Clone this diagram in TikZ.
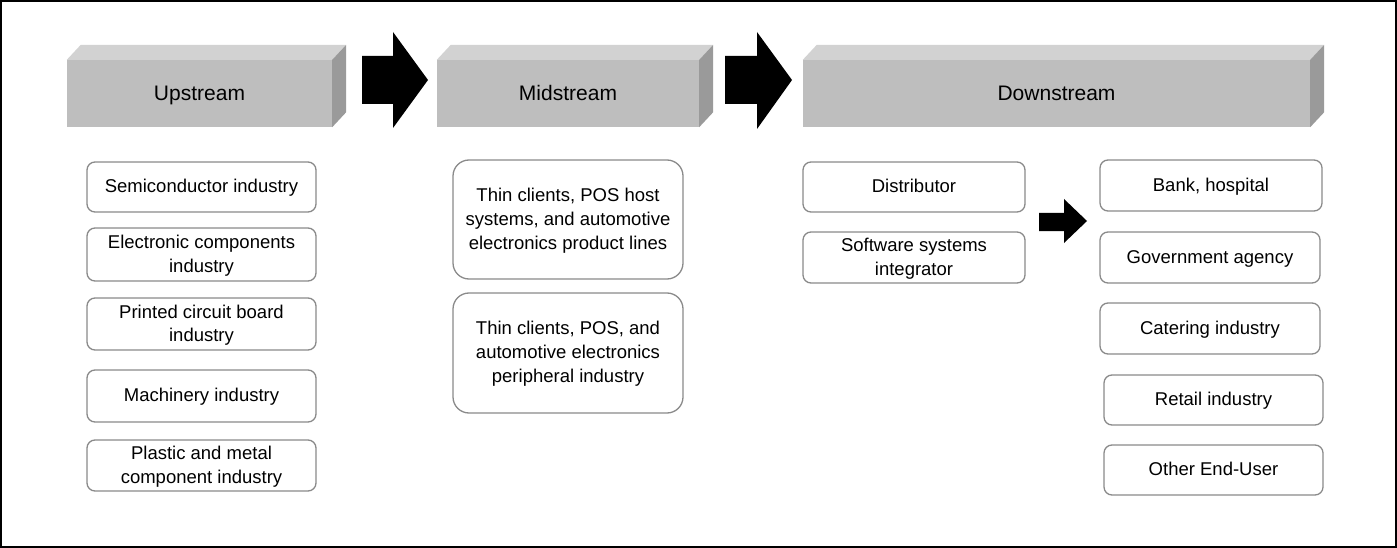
\documentclass[tikz,border=0pt]{standalone}
\usepackage{fontspec}
\setmainfont{Liberation Sans}
\definecolor{boxgray}{HTML}{8A8A8A}
\definecolor{frontgray}{HTML}{BEBEBE}
\definecolor{topgray}{HTML}{D2D2D2}
\definecolor{sidegray}{HTML}{9A9A9A}
\tikzset{
  ibox/.style={draw=boxgray, line width=1.3pt, rounded corners=8pt, fill=white, align=center,
    font=\fontsize{18.5}{23.5}\selectfont, text=black, inner sep=0pt, text depth=1.5pt},
  one/.style={text height=13.3pt},
  mbox/.style={ibox, rounded corners=16pt, font=\fontsize{18.5}{24}\selectfont},
  hdr/.style={fill=frontgray, font=\fontsize{21}{25}\selectfont, inner sep=0pt, minimum height=67pt,
    text height=15pt, text depth=1pt},
  blockarrow/.style={fill=black},
}
\newcommand{\threed}[1]{%
  \fill[topgray] (#1.north west) -- ([shift={(14,-15)}]#1.north west) -- ([shift={(14,-15)}]#1.north east) -- (#1.north east) -- cycle;
  \fill[sidegray] (#1.north east) -- ([shift={(14,-15)}]#1.north east) -- ([shift={(14,-15)}]#1.south east) -- (#1.south east) -- cycle;
}
\begin{document}
\begin{tikzpicture}[x=1pt,y=-1pt]
\useasboundingbox (0,0) rectangle (1397,548);
\draw[line width=2pt] (1,1) rectangle (1396,547);

% headers
\node[hdr, minimum width=265pt] (up) at (199.5,93.5) {Upstream};
\node[hdr, minimum width=262pt] (mid) at (568,93.5) {Midstream};
\node[hdr, minimum width=507pt] (down) at (1056.5,93.5) {Downstream};
\threed{up}
\threed{mid}
\threed{down}

% block arrows between headers
\fill[blockarrow] (362,56) -- (393,56) -- (393,32) -- (428,80) -- (393,128) -- (393,104) -- (362,104) -- cycle;
\fill[blockarrow] (725,56) -- (757,56) -- (757,32) -- (792,80) -- (757,129) -- (757,104) -- (725,104) -- cycle;

% upstream column
\node[ibox, one, minimum width=229pt, minimum height=50pt] (semi) at (201.5,187) {Semiconductor industry};
\node[ibox, minimum width=229pt, minimum height=53pt] (elec) at (201.5,254.5) {Electronic components\\industry};
\node[ibox, minimum width=229pt, minimum height=52pt] (pcb) at (201.5,324) {Printed circuit board\\industry};
\node[ibox, one, minimum width=229pt, minimum height=52pt] (mach) at (201.5,396) {Machinery industry};
\node[ibox, minimum width=229pt, minimum height=51pt] (plas) at (201.5,465.5) {Plastic and metal\\component industry};

% midstream column
\node[mbox, minimum width=230pt, minimum height=119pt] (thin1) at (568,219.5) {Thin clients, POS host\\systems, and automotive\\electronics product lines};
\node[mbox, minimum width=230pt, minimum height=120pt] (thin2) at (568,353) {Thin clients, POS, and\\automotive electronics\\peripheral industry};

% downstream left
\node[ibox, one, minimum width=222pt, minimum height=50pt] (dist) at (914,187) {Distributor};
\node[ibox, minimum width=222pt, minimum height=51pt] (soft) at (914,257.5) {Software systems\\integrator};

% small arrow
\fill[blockarrow] (1039,213) -- (1064,213) -- (1064,199) -- (1087,221) -- (1064,243) -- (1064,231) -- (1039,231) -- cycle;

% downstream right
\node[ibox, one, minimum width=222pt, minimum height=51pt] (bank) at (1211,185.5) {Bank, hospital};
\node[ibox, one, minimum width=220pt, minimum height=51pt] (gov) at (1210,257.5) {Government agency};
\node[ibox, one, minimum width=220pt, minimum height=51pt] (cater) at (1210,328.5) {Catering industry};
\node[ibox, one, minimum width=219pt, minimum height=50pt] (retail) at (1213.5,400) {Retail industry};
\node[ibox, one, minimum width=219pt, minimum height=50pt] (other) at (1213.5,470) {Other End-User};
\end{tikzpicture}
\end{document}
